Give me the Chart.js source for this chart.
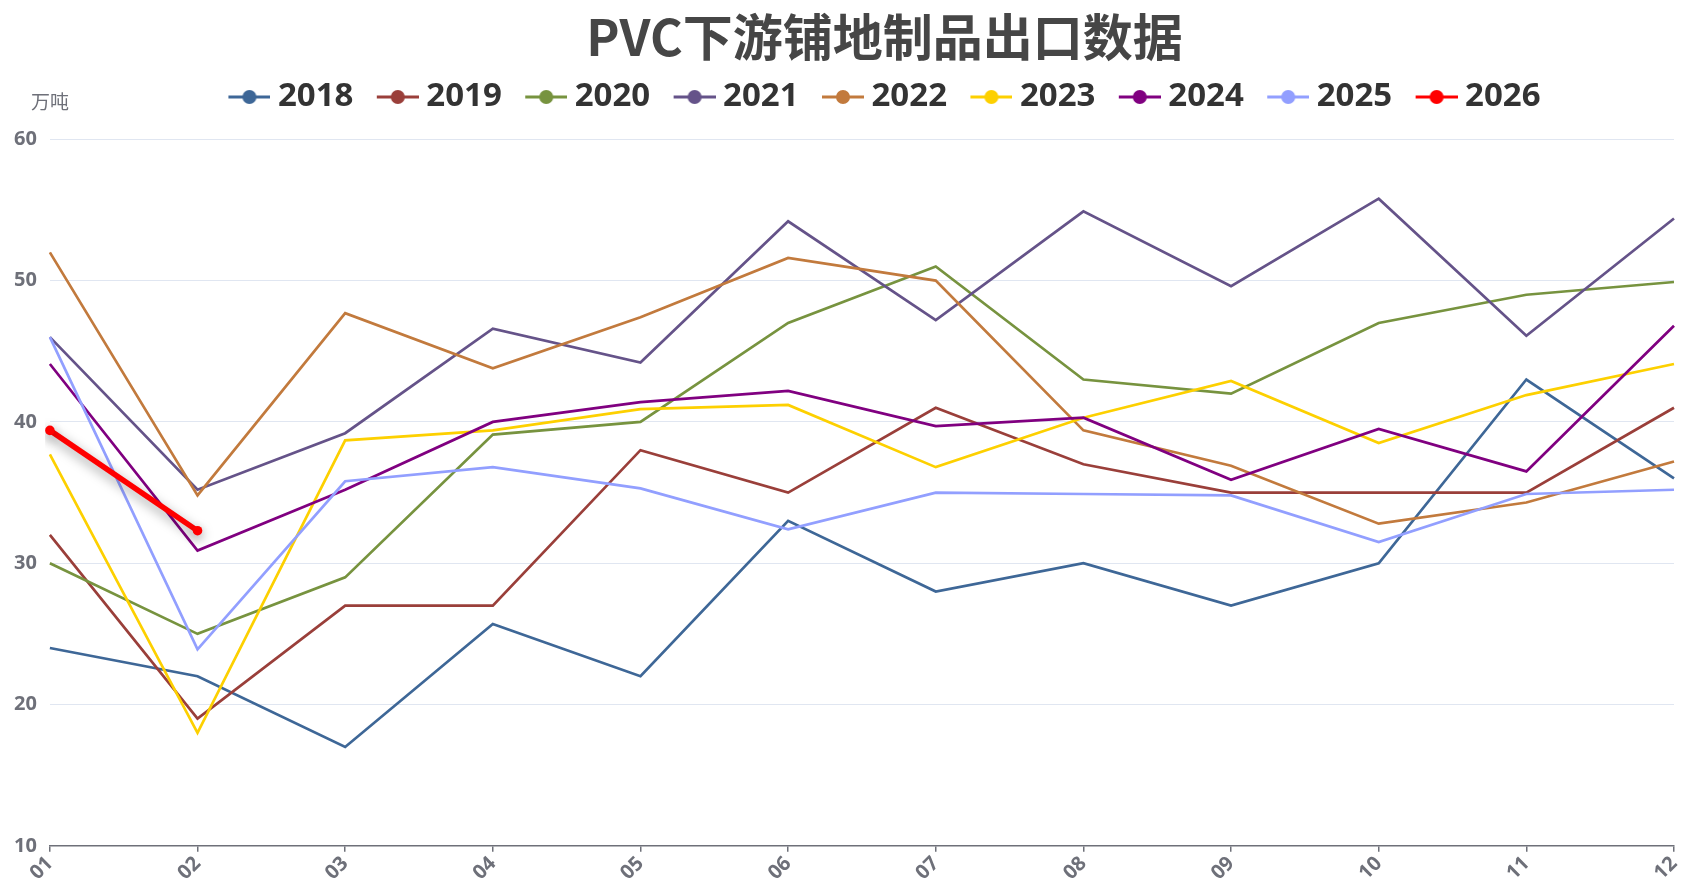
<!DOCTYPE html>
<html>
<head>
<meta charset="utf-8">
<script src="https://cdn.jsdelivr.net/npm/chart.js@4.4.1/dist/chart.umd.min.js"></script>
<style>
    html, body { margin: 0; padding: 0; background: #fff; overflow: hidden; }
    #wrap { position: relative; width: 1768px; height: 885px; }
</style>
</head>
<body>
<div id="wrap"><canvas id="lineChart"></canvas></div>
<script>
// months on the x axis
const months = ['01', '02', '03', '04', '05', '06', '07', '08', '09', '10', '11', '12'];
const years = ['2018', '2019', '2020', '2021', '2022', '2023', '2024', '2025', '2026'];

// export volume, 万吨
const v2018 = [24, 22, 17, 25.7, 22, 33, 28, 30, 27, 30, 43, 36];
const v2019 = [32, 19, 27, 27, 38, 35, 41, 37, 35, 35, 35, 41];
const v2020 = [30, 25, 29, 39.1, 40, 47, 51, 43, 42, 47, 49, 49.9];
const v2021 = [46, 35.2, 39.2, 46.6, 44.2, 54.2, 47.2, 54.9, 49.6, 55.8, 46.1, 54.4];
const v2022 = [52, 34.8, 47.7, 43.8, 47.4, 51.6, 50, 39.4, 36.9, 32.8, 34.3, 37.2];
const v2023 = [37.7, 18, 38.7, 39.4, 40.9, 41.2, 36.8, 40.3, 42.9, 38.5, 41.9, 44.1];
const v2024 = [44.1, 30.9, 35.2, 40, 41.4, 42.2, 39.7, 40.3, 35.9, 39.5, 36.5, 46.8];
const v2025 = [46, 23.9, 35.8, 36.8, 35.3, 32.4, 35, 34.9, 34.8, 31.5, 34.9, 35.2];
const v2026 = [39.4, 32.3];

const yTicks = { min: 10, max: 60, step: 10 };

const seriesValues = [v2018, v2019, v2020, v2021, v2022, v2023, v2024, v2025, v2026];
const colors = ['#3e6797', '#9a3f3a', '#77933f', '#655389', '#c27a3d',
                '#fdd000', '#800080', '#929fff', '#ff0000'];

/* ---- legend marker: short line with a dot, like the original ---- */
const LEG_FONT = 33, BOX_W = 33, MARK_W = 42, TEXT_GAP = 7.5;
function makeMarker(color) {
    const markRight = BOX_W + LEG_FONT / 2 - TEXT_GAP;
    const half = markRight - BOX_W / 2;
    const c = document.createElement('canvas');
    c.width = half * 2;
    c.height = 18;
    const g = c.getContext('2d');
    const x0 = c.width - MARK_W;
    g.strokeStyle = color;
    g.lineWidth = 3;
    g.beginPath();
    g.moveTo(x0, 9);
    g.lineTo(c.width, 9);
    g.stroke();
    g.fillStyle = color;
    g.beginPath();
    g.arc(x0 + MARK_W / 2, 9, 7, 0, Math.PI * 2);
    g.fill();
    return c;
}

const datasets = years.map((y, i) => {
    const isLast = y === '2026';
    return {
        label: y,
        data: seriesValues[i],
        borderColor: colors[i],
        backgroundColor: colors[i],
        borderWidth: isLast ? 5.5 : 2.7,
        pointRadius: isLast ? 4.8 : 0,
        pointHoverRadius: isLast ? 4.8 : 0,
        pointBackgroundColor: colors[i],
        pointBorderWidth: 0,
        tension: 0,
        fill: false,
        yAxisID: 'y',
        order: years.length - i
    };
});

/* extra room under the legend */
const legendMargin = {
    id: 'legendMargin',
    beforeInit(chart) {
        const fit = chart.legend.fit;
        chart.legend.fit = function () {
            fit.bind(chart.legend)();
            this.height += 15.8;
        };
    }
};

/* shadow under the current-year line */
const lineShadow = {
    id: 'lineShadow',
    beforeDatasetDraw(chart, args) {
        if (args.index !== years.length - 1) return;
        const ctx = chart.ctx;
        ctx.save();
        ctx.shadowColor = 'rgba(0, 0, 0, 0.4)';
        ctx.shadowBlur = 12;
        ctx.shadowOffsetY = 4;
    },
    afterDatasetDraw(chart, args) {
        if (args.index !== years.length - 1) return;
        chart.ctx.restore();
    }
};

/* unit name above the y axis */
const unitLabel = {
    id: 'unitLabel',
    afterDraw(chart) {
        const { ctx, chartArea } = chart;
        ctx.save();
        ctx.font = '19px "Noto Sans CJK SC", sans-serif';
        ctx.fillStyle = '#6e7079';
        ctx.textAlign = 'center';
        ctx.textBaseline = 'middle';
        ctx.fillText('万吨', chartArea.left, chartArea.top - 38);
        ctx.restore();
    }
};

Chart.defaults.font.family = '"Noto Sans", "Noto Sans CJK SC", sans-serif';

new Chart(document.getElementById('lineChart').getContext('2d'), {
    type: 'line',
    data: { labels: months, datasets: datasets },
    plugins: [legendMargin, lineShadow, unitLabel],
    options: {
        responsive: true,
        maintainAspectRatio: false,
        animation: false,
        layout: { padding: { left: 1, right: 0, top: 0, bottom: 0 } },
        plugins: {
            title: {
                display: true,
                text: 'PVC下游铺地制品出口数据',
                color: '#464646',
                font: { size: 50, weight: 'bold', family: '"Noto Sans CJK SC", sans-serif' },
                padding: { top: 7, bottom: -9.9 }
            },
            legend: {
                display: true,
                position: 'top',
                labels: {
                    color: '#333',
                    font: { size: LEG_FONT, weight: 'bold' },
                    padding: 23.4,
                    usePointStyle: true,
                    pointStyleWidth: BOX_W,
                    generateLabels(chart) {
                        return chart.data.datasets.map((ds, i) => ({
                            text: ds.label,
                            fontColor: '#333',
                            pointStyle: makeMarker(ds.borderColor),
                            datasetIndex: i,
                            hidden: false,
                            lineWidth: 0
                        }));
                    }
                }
            },
            tooltip: { enabled: false }
        },
        scales: {
            x: {
                offset: false,
                grid: {
                    display: true,
                    drawOnChartArea: false,
                    drawTicks: true,
                    tickLength: 6,
                    color: '#6e7079',
                    lineWidth: 1.5
                },
                border: { display: true, color: '#6e7079', width: 1.5 },
                ticks: {
                    autoSkip: false,
                    minRotation: 45,
                    maxRotation: 45,
                    padding: 0,
                    color: '#6e7079',
                    font: { size: 20, weight: 'bold' }
                }
            },
            y: {
                min: yTicks.min,
                max: yTicks.max,
                grid: { color: '#e0e6f1', lineWidth: 1, drawTicks: false },
                border: { display: false },
                ticks: {
                    stepSize: yTicks.step,
                    padding: 13,
                    color: '#6e7079',
                    font: { size: 20, weight: 'bold' }
                }
            },
            // empty right-hand strip, keeps title/legend centred like the original
            spacer: {
                position: 'right',
                display: true,
                grid: { display: false },
                border: { display: false },
                ticks: { display: false },
                afterFit(scale) { scale.width = 94; }
            }
        }
    }
});
</script>
</body>
</html>
